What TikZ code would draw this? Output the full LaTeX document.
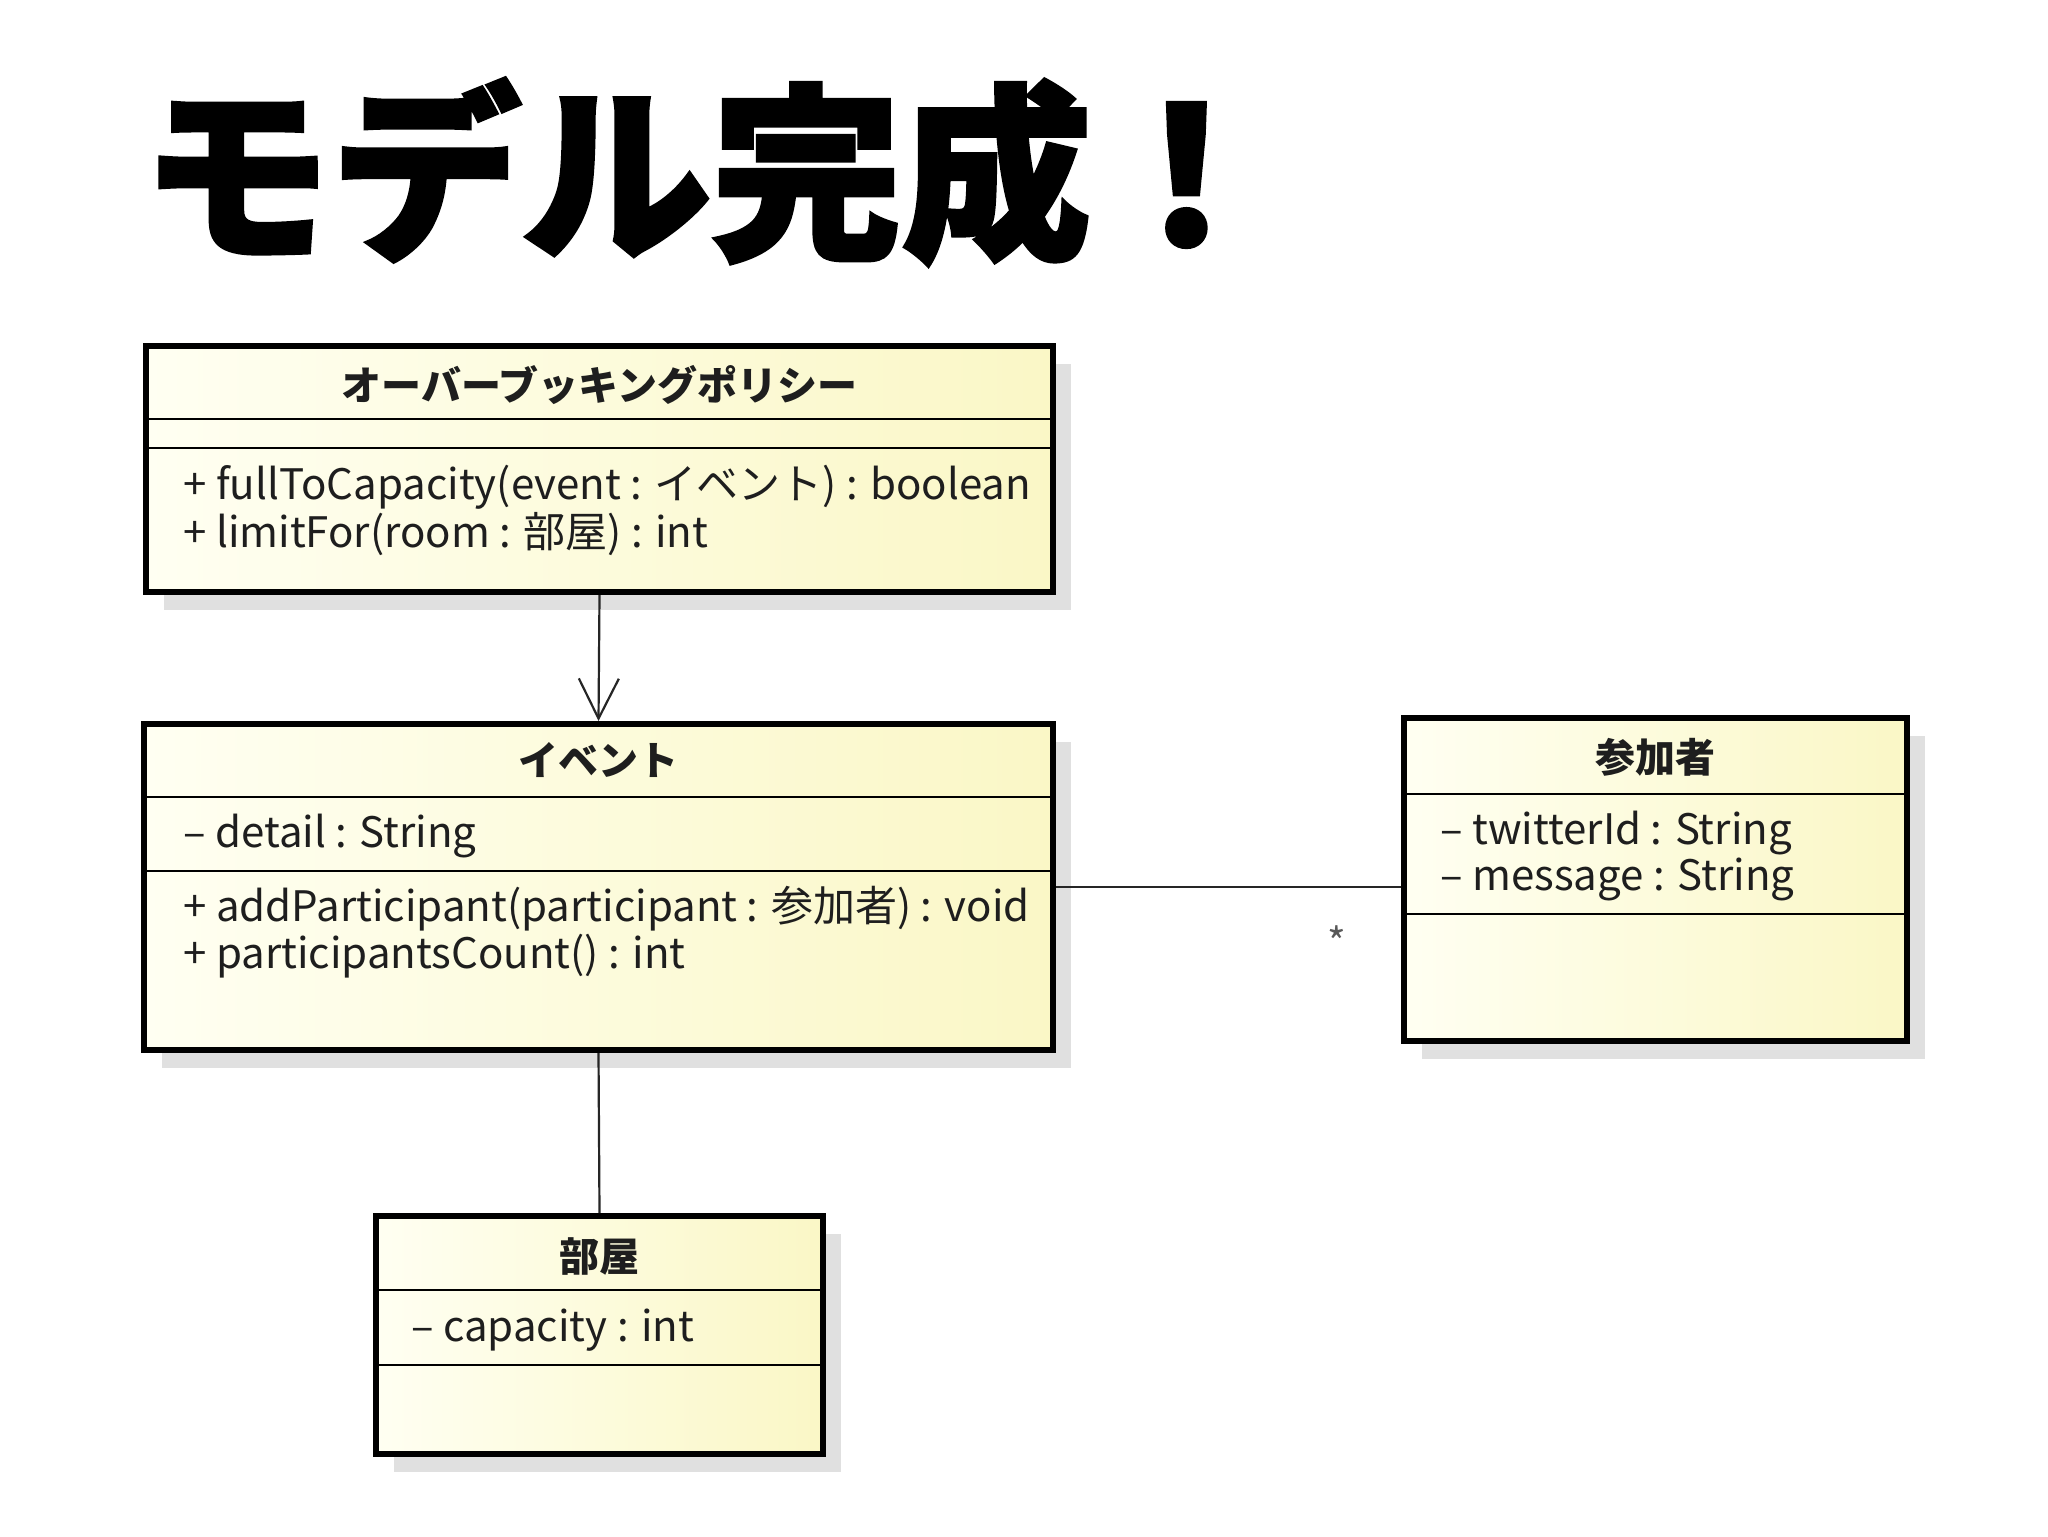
\documentclass[tikz,border=0pt]{standalone}
\usepackage{fontspec}
\setmainfont{Noto Sans CJK JP}
\newfontfamily\titlefont{Noto Sans CJK JP}[BoldFeatures={FakeBold=2}]
\usetikzlibrary{arrows.meta,shadows}
\definecolor{classlight}{RGB}{255,255,242}
\definecolor{classyellow}{RGB}{250,247,198}
\definecolor{textdark}{RGB}{30,30,30}

\tikzset{
  classbox/.style={draw=black, line width=3pt, inner sep=0pt,
    left color=classlight, right color=classyellow,
    drop shadow={shadow xshift=9pt, shadow yshift=-9pt, fill=black!12, opacity=1}},
  divider/.style={line width=0.9pt, black},
  classname/.style={inner sep=0pt, font=\fontsize{20}{24}\selectfont\bfseries, text=textdark},
  member/.style={inner sep=0pt, anchor=west, font=\fontsize{21}{25}\selectfont, text=textdark},
  link/.style={line width=1.1pt, black!85},
}

\begin{document}
\begin{tikzpicture}[x=0.5pt,y=-0.5pt]
    % === 背景 ===
    \fill[white] (0,0) rectangle (2048,1536);
    \useasboundingbox (0,0) rectangle (2048,1536);

    % タイトル
    \node[inner sep=0pt, anchor=west, font=\titlefont\bfseries\fontsize{95}{95}\selectfont] (title) at (141,172) {モデル完成！};

    % === クラスの枠 ===
    \node[classbox, minimum width=453.5pt, minimum height=123pt] (policy) at (599.5,469) {};
    \node[classbox, minimum width=454.5pt, minimum height=163pt] (event) at (598.5,887) {};
    \node[classbox, minimum width=251.5pt, minimum height=161.5pt] (part) at (1655.5,879.5) {};
    \node[classbox, minimum width=223.5pt, minimum height=119pt] (room) at (599.5,1335) {};

    % 区切り線
    \foreach \b/\y in {policy/419, policy/448, event/797, event/871, part/794, part/914, room/1290, room/1365} {
        \draw[divider] (\b.west |- 0,\y) -- (\b.east |- 0,\y);
    }

    % === クラス名 ===
    \node[classname] (policyname) at (599.5,385) {オーバーブッキングポリシー};
    \node[classname] (eventname) at (598.5,760) {イベント};
    \node[classname] (partname) at (1655.5,757) {参加者};
    \node[classname] (roomname) at (599.5,1256) {部屋};

    % === 属性と操作 ===
    \node[member] (policyop1) at (183,487) {+ fullToCapacity(event : イベント) : boolean};
    \node[member] (policyop2) at (183,534) {+ limitFor(room : 部屋) : int};

    \node[member] (eventattr) at (183,836) {– detail : String};
    \node[member] (eventop1) at (183,909) {+ addParticipant(participant : 参加者) : void};
    \node[member] (eventop2) at (183,956) {+ participantsCount() : int};

    \node[member] (partattr1) at (1440,833) {– twitterId : String};
    \node[member] (partattr2) at (1440,879) {– message : String};

    \node[member] (roomattr) at (411,1330) {– capacity : int};

    % === 関連 ===
    \draw[link, -{Straight Barb[length=20pt, width=20pt, line width=1.1pt]}] (policy.south) -- (event.north);
    \draw[link] (event.east) -- (event.east -| part.west);
    \draw[link] (event.south) -- (room.north);
    \node[inner sep=0pt, font=\fontsize{20}{20}\selectfont, text=black!65] (mult) at (1337,942) {*};
\end{tikzpicture}
\end{document}
